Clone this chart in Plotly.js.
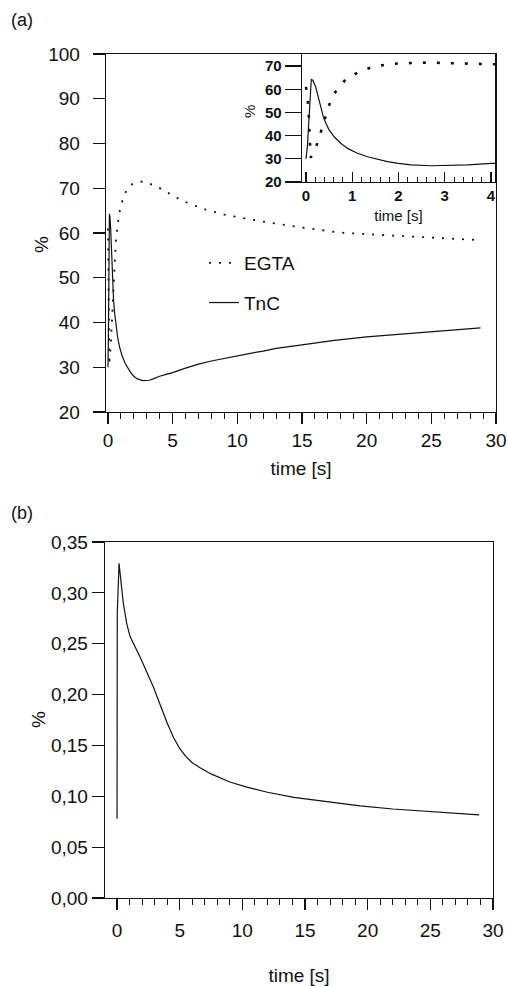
<!DOCTYPE html>
<html>
<head>
<meta charset="utf-8">
<script src="https://cdn.plot.ly/plotly-3.0.1.min.js"></script>
<style>html,body{margin:0;padding:0;background:#fff;}#chart{width:508px;height:986px;}</style>
</head>
<body>
<div id="chart"></div>
<script>
// ---- data ----
var tnc_t = [0, 0.03, 0.115, 0.15, 0.21, 0.26, 0.32, 0.37, 0.43, 0.5, 0.61, 0.75, 0.9, 1.1, 1.33, 1.55, 1.76, 2.0, 2.27, 2.7, 3.2, 3.5, 4.0, 4.5, 5, 6, 7, 8, 9, 10, 11, 12, 13, 15, 17.5, 20, 22.5, 25, 27, 28.8];
var tnc_v = [30, 35.2, 64.3, 63.8, 61, 57, 52.5, 48.5, 45.3, 42.5, 39.5, 36.7, 34.5, 32.5, 30.9, 29.7, 28.8, 28.0, 27.4, 27.0, 27.1, 27.4, 28.0, 28.4, 28.8, 29.8, 30.7, 31.4, 32.0, 32.5, 33.1, 33.6, 34.2, 35.0, 36.0, 36.8, 37.4, 37.9, 38.4, 38.8];

var egta_t = [0, 0.04, 0.06, 0.07, 0.09, 0.1, 0.21, 0.3, 0.39, 0.48, 0.61, 0.86, 1.17, 1.46, 1.76, 2.05, 2.34, 2.66, 2.98, 3.27, 3.56, 3.84, 4.5, 5.5, 6.5, 7.8, 9, 10.8, 12.5, 14.6, 17.9, 21.5, 24.5, 28.2, 28.8];
var egta_v = [61, 54.9, 48.9, 42.4, 36.7, 30.5, 34.5, 39.8, 46, 52.2, 58.2, 64.3, 67.8, 69.7, 70.7, 71.2, 71.4, 71.5, 71.3, 71.0, 70.7, 70.3, 69.2, 67.6, 66.3, 65.0, 64.1, 63.1, 62.3, 61.4, 60.1, 59.5, 59.1, 58.5, 58.4];

var b_t = [0, 0.02, 0.16, 0.5, 0.77, 1.04, 1.84, 2.9, 4.0, 4.5, 5.0, 5.5, 6.0, 6.63, 7.5, 8.2, 9.0, 10.36, 12, 14.1, 17, 19.4, 22, 24.7, 28.9];
var b_v = [0.078, 0.28, 0.329, 0.29, 0.27, 0.257, 0.237, 0.2075, 0.172, 0.158, 0.147, 0.139, 0.133, 0.128, 0.122, 0.118, 0.114, 0.109, 0.104, 0.099, 0.094, 0.0905, 0.0875, 0.085, 0.0818];

var b_ticks = [0, 0.05, 0.10, 0.15, 0.20, 0.25, 0.30, 0.35];
var b_tickText = ['0,00', '0,05', '0,10', '0,15', '0,20', '0,25', '0,30', '0,35'];

var FONT = 'Liberation Sans, Arial, Helvetica, sans-serif';
var W = 508, H = 986;
function px(x){return x/W;}
function py(y){return (H-y)/H;}

var traces = [
  {x: egta_t, y: egta_v, name: 'EGTA', type: 'scatter', mode: 'lines', xaxis: 'x', yaxis: 'y',
   line: {color: '#111', width: 1.8, dash: '2px,8px'}, legendgroup: 'a'},
  {x: tnc_t, y: tnc_v, name: 'TnC', type: 'scatter', mode: 'lines', xaxis: 'x', yaxis: 'y',
   line: {color: '#111', width: 1.2}, legendgroup: 'b'},
  {x: egta_t, y: egta_v, name: 'EGTA', type: 'scatter', mode: 'lines', xaxis: 'x2', yaxis: 'y2',
   line: {color: '#111', width: 2.6, dash: '3px,11px'}, showlegend: false},
  {x: tnc_t, y: tnc_v, name: 'TnC', type: 'scatter', mode: 'lines', xaxis: 'x2', yaxis: 'y2',
   line: {color: '#111', width: 1.2}, showlegend: false},
  {x: b_t, y: b_v, name: 'b', type: 'scatter', mode: 'lines', xaxis: 'x3', yaxis: 'y3',
   line: {color: '#111', width: 1.2}, showlegend: false}
];

var axBase = {showgrid: false, zeroline: false, showline: true, linecolor: '#111', linewidth: 1.3,
  mirror: true, tickcolor: '#111', tickfont: {family: FONT, size: 19, color: '#111'}};

function ax(o){ var r = JSON.parse(JSON.stringify(axBase)); for (var k in o) r[k] = o[k]; return r; }

function lbl(text, x, y, size, rot){
  return {text: text, x: px(x), y: py(y), xref: 'paper', yref: 'paper', xanchor: 'center', yanchor: 'middle',
    showarrow: false, textangle: rot || 0, font: {family: FONT, size: size, color: '#111'}};
}

var layout = {
  width: W, height: H,
  margin: {l: 0, r: 0, t: 0, b: 0},
  paper_bgcolor: '#fff', plot_bgcolor: 'rgba(0,0,0,0)',
  font: {family: FONT, color: '#111'},
  showlegend: true,
  legend: {x: px(204), y: py(244), xanchor: 'left', yanchor: 'top', bgcolor: 'rgba(0,0,0,0)',
    font: {family: FONT, size: 19, color: '#111'}, tracegroupgap: 12},
  xaxis: ax({domain: [px(106), px(496)], range: [-0.15, 30], anchor: 'y',
    tickvals: [0, 5, 10, 15, 20, 25, 30], ticks: 'outside', ticklen: 11, tickwidth: 1.2,
    minor: {dtick: 1, tick0: 0, ticks: 'outside', ticklen: 6, tickcolor: '#111', tickwidth: 1},
    title: {text: 'time [s]', font: {family: FONT, size: 19}, standoff: 11}}),
  yaxis: ax({domain: [py(412), py(54)], range: [20, 100], anchor: 'x',
    tickvals: [20, 30, 40, 50, 60, 70, 80, 90, 100], ticks: 'outside', ticklen: 12, tickwidth: 1.2,
    ticklabelstandoff: 9}),
  xaxis2: ax({domain: [px(302), px(495)], range: [-0.086, 4.086], anchor: 'y2',
    tickvals: [0, 1, 2, 3, 4], ticks: 'inside', ticklen: 10, tickwidth: 1.2,
    minor: {dtick: 0.2, tick0: 0, ticks: 'inside', ticklen: 5, tickcolor: '#111', tickwidth: 1},
    tickfont: {family: FONT, size: 15, color: '#111', weight: 'bold'},
    title: {text: 'time [s]', font: {family: FONT, size: 15}, standoff: 7}}),
  yaxis2: ax({domain: [py(182), py(54)], range: [20, 75.2], anchor: 'x2',
    tickvals: [20, 30, 40, 50, 60, 70], ticks: 'outside', ticklen: 16, tickwidth: 1.2,
    tickfont: {family: FONT, size: 15, color: '#111', weight: 'bold'}}),
  xaxis3: ax({domain: [px(105), px(493)], range: [-0.96, 30], anchor: 'y3',
    tickvals: [0, 5, 10, 15, 20, 25, 30], ticks: 'outside', ticklen: 11, tickwidth: 1.2,
    ticklabelstandoff: 4,
    minor: {dtick: 1, tick0: 0, ticks: 'outside', ticklen: 6, tickcolor: '#111', tickwidth: 1},
    title: {text: 'time [s]', font: {family: FONT, size: 19}, standoff: 30}}),
  yaxis3: ax({domain: [py(898), py(542)], range: [0, 0.35], anchor: 'x3',
    tickvals: b_ticks, ticktext: b_tickText, ticks: 'outside', ticklen: 12, tickwidth: 1.2}),
  annotations: [
    {text: '(a)', x: px(9), y: py(20), xref: 'paper', yref: 'paper', xanchor: 'left', yanchor: 'middle',
     showarrow: false, font: {family: FONT, size: 18, color: '#111'}},
    {text: '(b)', x: px(9), y: py(513), xref: 'paper', yref: 'paper', xanchor: 'left', yanchor: 'middle',
     showarrow: false, font: {family: FONT, size: 18, color: '#111'}},
    lbl('%', 42, 245, 19, -90),
    lbl('%', 249, 112, 15, -90),
    lbl('%', 38, 720, 19, -90)
  ]
};

Plotly.newPlot('chart', traces, layout, {staticPlot: true, displayModeBar: false});
</script>
</body>
</html>
